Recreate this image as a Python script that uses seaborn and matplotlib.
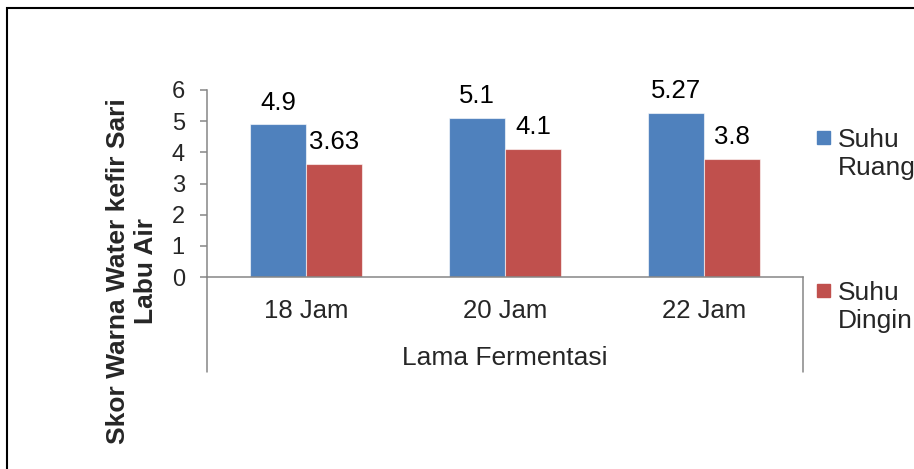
import pandas as pd
import seaborn as sns
from matplotlib import pyplot as plt
from matplotlib.patches import Rectangle

# Data
waktu = ['18 Jam', '20 Jam', '22 Jam']
suhu_ruang = [4.9, 5.1, 5.27]
suhu_dingin = [3.63, 4.1, 3.8]
series = ['Suhu Ruang', 'Suhu Dingin']
legend_labels = ['Suhu\nRuang', 'Suhu\nDingin']
colors = ['#4F81BD', '#C0504D']
yticks = [0, 1, 2, 3, 4, 5, 6]

df = pd.DataFrame({
    'waktu': waktu * 2,
    'skor': suhu_ruang + suhu_dingin,
    'suhu': [series[0]] * len(waktu) + [series[1]] * len(waktu),
})

sns.set_style('white')
plt.rcParams['font.family'] = ['Liberation Sans', 'DejaVu Sans']

W, H = 914, 469
fig = plt.figure(figsize=(W / 100, H / 100), dpi=100)
ax = fig.add_axes([207 / W, (H - 277) / H, 596 / W, 187 / H])

sns.barplot(data=df, x='waktu', y='skor', hue='suhu', palette=colors,
            saturation=1, width=0.565, gap=0, ax=ax, legend=False,
            edgecolor=(1, 1, 1, 0.6), linewidth=0.8)

for cont in ax.containers:
    ax.bar_label(cont, fmt='%g', padding=7, fontsize=18.5, color='black')

ax.set_ylim(0, 6)
ax.set_xlim(-0.5, 2.5)
ax.set_yticks(yticks)
ax.set_yticklabels([str(t) for t in yticks])

grey = '#868686'
for side in ['top', 'right']:
    ax.spines[side].set_visible(False)
for side in ['left', 'bottom']:
    ax.spines[side].set_color(grey)
    ax.spines[side].set_linewidth(1.1)

ax.tick_params(axis='y', direction='out', length=5, width=1.1, color=grey,
               labelsize=17, pad=11, left=True)
ax.tick_params(axis='x', length=0, labelsize=18.5, pad=15.5)

# category bracket lines below the axis
ax.plot([0, 0], [0, -0.508], transform=ax.transAxes, clip_on=False,
        color=grey, lw=1.1)
ax.plot([1, 1], [0, -0.508], transform=ax.transAxes, clip_on=False,
        color=grey, lw=1.1)

ax.set_xlabel('Lama Fermentasi', fontsize=19)
ax.xaxis.set_label_coords(0.5, -0.369)
ax.set_ylabel('Skor Warna Water kefir Sari\nLabu Air', fontsize=19,
              fontweight='bold', linespacing=1.18)
ax.yaxis.label.set_verticalalignment('center')
ax.yaxis.set_label_coords(-0.1258, 0.032)

# legend drawn by hand so the square sits on the first line
for lab, col, top in zip(legend_labels, colors, [131, 284]):
    fig.add_artist(Rectangle((817 / W, 1 - (top + 13) / H), 13 / W, 13 / H,
                             transform=fig.transFigure, color=col))
    fig.text(838 / W, 1 - (top - 3) / H, lab, fontsize=19, va='top',
             ha='left', linespacing=1.2)

# chart border
fig.add_artist(Rectangle((7 / W, -0.2), 2, (H - 8) / H + 0.2,
                         transform=fig.transFigure, fill=False,
                         edgecolor='black', lw=1.5))

fig.savefig('out.png', dpi=100)
